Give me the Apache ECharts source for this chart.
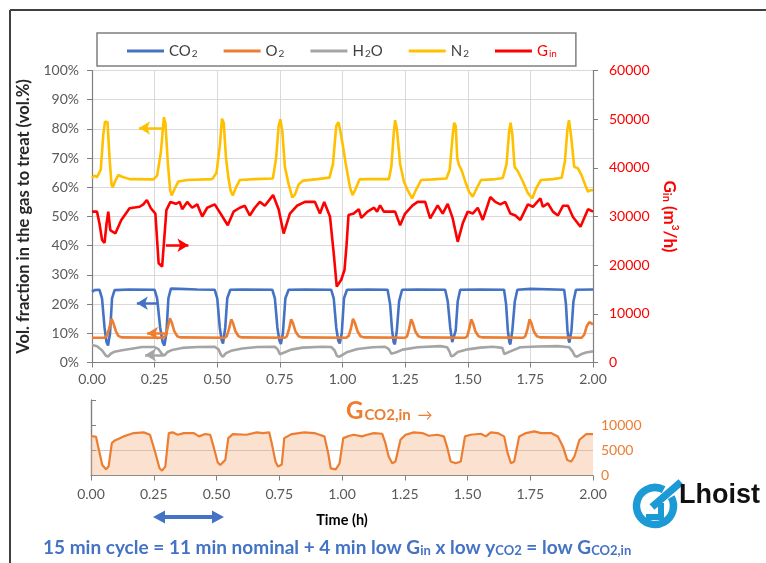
<!DOCTYPE html>
<html>
<head>
<meta charset="utf-8">
<script src="https://cdn.jsdelivr.net/npm/echarts@6/dist/echarts.min.js"></script>
<style>
  html, body { margin: 0; padding: 0; background: #fff; }
  #chart { width: 766px; height: 563px; }
</style>
</head>
<body>
<div id="chart"></div>
<script>
// Time axis ticks (h)
const timeTicks = [0, 0.25, 0.5, 0.75, 1.0, 1.25, 1.5, 1.75, 2.0];

// Gas composition, vol.% vs time (h)
const co2 = [[0,24.2],[0.01,24.8],[0.03,24.9],[0.04,22],[0.05,12],[0.058,7],[0.064,5.8],[0.072,10],[0.08,22],[0.09,24.8],[0.15,25],[0.25,24.9],[0.26,22],[0.272,12],[0.282,7],[0.289,5.8],[0.297,10],[0.305,22],[0.315,25.3],[0.35,25.2],[0.42,25],[0.49,24.9],[0.5,22],[0.51,12],[0.518,7.5],[0.523,6.5],[0.532,12],[0.54,22],[0.552,24.9],[0.6,25],[0.72,24.9],[0.73,22],[0.74,12],[0.748,7.5],[0.754,6.3],[0.762,10],[0.772,22],[0.785,24.9],[0.85,25],[0.955,24.9],[0.965,22],[0.975,12],[0.983,7.5],[0.989,6.5],[0.997,10],[1.006,22],[1.018,24.9],[1.1,25],[1.18,24.9],[1.19,20],[1.198,11],[1.204,7],[1.209,6.2],[1.217,11],[1.226,21],[1.238,24.9],[1.3,25],[1.41,24.9],[1.42,21],[1.43,12],[1.438,7],[1.445,6.4],[1.452,11],[1.46,21],[1.47,24.9],[1.55,25],[1.645,24.9],[1.653,20],[1.66,11],[1.666,7],[1.67,6.2],[1.678,11],[1.688,21],[1.698,24.9],[1.75,25.2],[1.885,24.9],[1.892,20],[1.898,11],[1.903,7.5],[1.906,6.8],[1.914,11],[1.922,21],[1.932,24.9],[2.0,25]];

const o2 = [[0,8.5],[0.05,8.5],[0.06,9.2],[0.068,11.5],[0.078,15],[0.085,13.6],[0.095,10.8],[0.105,9.1],[0.118,8.6],[0.28,8.5],[0.293,9],[0.302,11.8],[0.311,15.1],[0.318,13.8],[0.328,10.8],[0.34,9],[0.352,8.6],[0.53,8.5],[0.538,9],[0.547,11.5],[0.556,14.8],[0.563,13.5],[0.573,10.6],[0.585,9],[0.597,8.6],[0.77,8.5],[0.778,9],[0.787,11.6],[0.795,14.8],[0.802,13.6],[0.812,10.7],[0.825,9],[0.838,8.6],[1.015,8.5],[1.025,9.1],[1.034,11.8],[1.042,15],[1.049,13.7],[1.06,10.7],[1.072,9],[1.085,8.6],[1.25,8.5],[1.258,9],[1.266,11.6],[1.274,14.8],[1.281,13.5],[1.291,10.6],[1.303,9],[1.316,8.6],[1.49,8.5],[1.498,9],[1.506,11.6],[1.514,14.8],[1.521,13.5],[1.531,10.6],[1.543,9],[1.556,8.6],[1.722,8.5],[1.73,9],[1.739,11.6],[1.747,14.8],[1.754,13.5],[1.764,10.6],[1.776,9],[1.789,8.6],[1.955,8.5],[1.965,9.5],[1.975,12.4],[1.985,13.8],[2.0,13.1]];

const h2o = [[0,6.0],[0.02,5.6],[0.04,4.2],[0.055,2.4],[0.064,2.0],[0.075,3.0],[0.09,3.7],[0.12,4.2],[0.17,4.9],[0.2,5.3],[0.25,5.3],[0.265,4.6],[0.28,2.8],[0.289,2.4],[0.3,3.5],[0.32,4.3],[0.36,5.0],[0.42,5.3],[0.49,5.4],[0.505,4.5],[0.515,2.6],[0.523,2.0],[0.535,3.2],[0.555,4.0],[0.6,4.8],[0.66,5.3],[0.73,5.4],[0.742,4.4],[0.75,2.8],[0.756,2.3],[0.77,3.5],[0.795,4.4],[0.84,5.1],[0.92,5.4],[0.955,5.3],[0.968,4.2],[0.978,2.2],[0.988,2.0],[1.0,2.6],[1.02,3.6],[1.06,4.6],[1.12,5.2],[1.17,5.4],[1.185,4.6],[1.195,3.0],[1.201,2.6],[1.215,3.5],[1.24,4.4],[1.3,5.2],[1.39,5.6],[1.418,5.2],[1.427,3.8],[1.434,2.1],[1.442,2.3],[1.46,3.6],[1.5,4.5],[1.55,5.1],[1.6,5.4],[1.638,5.0],[1.646,2.9],[1.652,2.6],[1.67,3.8],[1.71,5.2],[1.78,5.5],[1.86,5.6],[1.905,5.2],[1.918,3.8],[1.928,2.2],[1.936,2.0],[1.952,2.8],[1.972,3.4],[2.0,3.8]];

const n2 = [[0,63.2],[0.01,64],[0.02,63.5],[0.035,66],[0.045,78],[0.052,82.5],[0.062,82.3],[0.07,70],[0.078,61],[0.083,60],[0.092,62],[0.105,64.2],[0.12,63.6],[0.15,62.8],[0.245,62.7],[0.26,64],[0.275,72],[0.287,84],[0.293,82],[0.303,68],[0.312,59],[0.318,57.2],[0.33,59.5],[0.345,62],[0.38,62.5],[0.48,62.8],[0.497,65],[0.51,74],[0.519,83.5],[0.526,82],[0.535,70],[0.545,63],[0.553,59],[0.562,57.2],[0.575,60],[0.59,62.5],[0.65,62.8],[0.722,63],[0.735,70],[0.745,81],[0.752,83.3],[0.76,79],[0.77,67],[0.785,61],[0.8,56.5],[0.81,57.5],[0.825,61],[0.843,62.3],[0.9,62.8],[0.948,63.3],[0.962,68],[0.975,81],[0.984,82.3],[0.992,79],[1.0,75],[1.015,67],[1.03,60],[1.04,57.3],[1.05,59],[1.068,62.7],[1.1,62.8],[1.185,62.8],[1.195,67],[1.205,79],[1.21,83],[1.217,80],[1.23,68],[1.245,62],[1.26,59],[1.278,56.2],[1.29,58.5],[1.314,62.5],[1.36,62.7],[1.415,63],[1.428,66],[1.44,78],[1.446,82.1],[1.452,81],[1.458,70],[1.465,67.6],[1.475,66],[1.49,62],[1.505,58.5],[1.52,56.8],[1.535,59.5],[1.553,62.5],[1.6,62.7],[1.64,63.2],[1.655,68],[1.665,79],[1.671,82.1],[1.678,78],[1.687,67],[1.7,65.5],[1.72,62],[1.74,58],[1.758,56.2],[1.772,59.5],[1.792,62.5],[1.84,62.8],[1.875,63.3],[1.888,69],[1.898,80],[1.904,83],[1.912,78],[1.925,67],[1.94,66.5],[1.955,64],[1.968,61],[1.98,58.5],[1.99,59],[2.0,59]];

// Inlet gas flow G_in, m3/h vs time (h)
const gin = [[0,31000],[0.02,31000],[0.03,28500],[0.04,25200],[0.05,24600],[0.058,28500],[0.065,31000],[0.073,27200],[0.093,26500],[0.117,29300],[0.15,31700],[0.19,32000],[0.205,32500],[0.219,33400],[0.235,31700],[0.253,30600],[0.266,20400],[0.28,19700],[0.297,31300],[0.313,33000],[0.335,32600],[0.35,33000],[0.36,31500],[0.38,33000],[0.4,31800],[0.42,32500],[0.44,30000],[0.46,31800],[0.49,32500],[0.518,30200],[0.542,28200],[0.565,31000],[0.59,31800],[0.61,32200],[0.63,30200],[0.65,31800],[0.67,33000],[0.69,32200],[0.723,34400],[0.745,31500],[0.765,26500],[0.79,30600],[0.818,32200],[0.85,33000],[0.89,33000],[0.91,30600],[0.927,33000],[0.95,30000],[0.965,22400],[0.977,15600],[0.995,17000],[1.008,19000],[1.016,24000],[1.024,30300],[1.045,30600],[1.065,31500],[1.075,29700],[1.1,31000],[1.126,31800],[1.138,31000],[1.15,32300],[1.165,31000],[1.19,31000],[1.21,31000],[1.23,28200],[1.25,30600],[1.28,32300],[1.3,33000],[1.33,33000],[1.35,29600],[1.38,32300],[1.4,30600],[1.42,32600],[1.44,29600],[1.46,24800],[1.48,28600],[1.5,31000],[1.52,30600],[1.54,31800],[1.56,29300],[1.59,34000],[1.61,33000],[1.63,32500],[1.65,33000],[1.67,30600],[1.69,30200],[1.71,29300],[1.74,32500],[1.76,32000],[1.79,33700],[1.8,32000],[1.82,32700],[1.84,31000],[1.86,30200],[1.88,32200],[1.9,32200],[1.92,29900],[1.95,27900],[1.98,31500],[2.0,31000]];

// CO2 inlet flow G_CO2,in, m3/h vs time (h)
const gco2in = [[0,7800],[0.01,7770],[0.02,7700],[0.03,5400],[0.045,2100],[0.06,1230],[0.07,1770],[0.083,6430],[0.095,6970],[0.13,7770],[0.17,8430],[0.21,8570],[0.235,8100],[0.253,5100],[0.273,1430],[0.283,970],[0.296,1770],[0.31,8430],[0.325,8570],[0.345,8100],[0.37,8430],[0.41,8430],[0.43,7770],[0.455,8230],[0.475,8100],[0.49,5430],[0.505,2570],[0.515,2100],[0.535,3100],[0.547,7430],[0.565,8230],[0.62,8100],[0.66,8570],[0.685,8430],[0.71,8570],[0.72,6430],[0.735,2770],[0.745,1770],[0.76,2200],[0.77,7430],[0.8,8230],[0.85,8570],[0.89,8430],[0.91,8100],[0.93,7770],[0.945,4430],[0.955,1430],[0.975,1230],[0.99,2370],[1.005,7430],[1.03,7900],[1.047,8100],[1.08,7770],[1.1,8100],[1.127,8430],[1.16,8300],[1.173,6430],[1.186,3770],[1.2,2430],[1.213,2770],[1.233,7100],[1.253,8100],[1.286,8570],[1.32,8430],[1.346,7900],[1.38,8100],[1.406,7770],[1.42,5430],[1.433,2770],[1.453,2430],[1.473,2770],[1.49,7770],[1.513,8100],[1.553,8300],[1.573,7770],[1.593,8570],[1.62,8430],[1.646,7770],[1.66,4430],[1.673,2430],[1.686,2770],[1.706,7770],[1.733,8430],[1.766,8770],[1.793,8430],[1.833,8430],[1.86,7770],[1.88,5770],[1.897,3100],[1.913,2770],[1.926,3770],[1.946,7100],[1.973,8230],[2.0,8230]];

// Axis-side pointers: [from, to] in (time, value) of the matching axis
const arrowN2 = [[0.283, 80.3], [0.188, 80.3]];
const arrowGin = [[0.295, 24100], [0.385, 24100]];
const arrowCO2 = [[0.26, 20.3], [0.179, 20.3]];
const arrowO2 = [[0.303, 10.0], [0.22, 10.0]];
const arrowH2O = [[0.284, 2.6], [0.212, 2.6]];

const FONT = 'Lato, "Open Sans", sans-serif';
const C = { co2: '#4472C4', o2: '#ED7D31', h2o: '#A5A5A5', n2: '#FFC000', gin: '#FF0000' };
const legendLabels = {
  CO2: '{t|CO}{s|2}', O2: '{t|O}{s|2}', H2O: '{t|H}{s|2}{t|O}', N2: '{t|N}{s|2}', Gin: '{r|G}{rs|in}'
};

function pointer(pair, color) {
  return {
    silent: true,
    symbol: ['none', 'arrow'],
    symbolSize: [10, 11],
    label: { show: false },
    lineStyle: { color: color, width: 2.5, type: 'solid' },
    data: [[{ coord: pair[0] }, { coord: pair[1] }]]
  };
}

function lineSeries(name, data, color, yIdx, arrow) {
  return {
    name: name, type: 'line', data: data,
    xAxisIndex: 0, yAxisIndex: yIdx,
    showSymbol: false, symbol: 'none',
    lineStyle: { color: color, width: 2.6 },
    itemStyle: { color: color },
    markLine: pointer(arrow, color)
  };
}

const axisGray = '#7f7f7f';
const labelGray = '#595959';

const chart = echarts.init(document.getElementById('chart'), null, { renderer: 'canvas' });
chart.setOption({
  animation: false,
  backgroundColor: '#ffffff',
  textStyle: { fontFamily: FONT },
  grid: [
    { left: 92, top: 70.5, width: 501, height: 292 },
    { left: 91, top: 400, width: 502, height: 75.5 }
  ],
  legend: {
    left: 97, top: 33,
    padding: [7, 19, 7, 30],
    itemGap: 26, itemWidth: 37, itemHeight: 3,
    icon: 'rect',
    borderColor: '#7f7f7f', borderWidth: 1.5,
    data: ['CO2', 'O2', 'H2O', 'N2', 'Gin'],
    formatter: function (n) { return legendLabels[n]; },
    textStyle: {
      fontFamily: FONT,
      rich: {
        t: { fontSize: 15, color: '#404040', fontFamily: FONT, lineHeight: 16, verticalAlign: 'bottom' },
        s: { fontSize: 10, color: '#404040', fontFamily: FONT, lineHeight: 10, padding: [9, 0, 0, 1], verticalAlign: 'bottom' },
        r: { fontSize: 15, color: '#FF0000', fontFamily: FONT, lineHeight: 16, verticalAlign: 'bottom' },
        rs: { fontSize: 10, color: '#FF0000', fontFamily: FONT, lineHeight: 10, padding: [9, 0, 0, 1], verticalAlign: 'bottom' }
      }
    }
  },
  xAxis: [
    {
      type: 'value', gridIndex: 0, min: 0, max: 2, interval: 0.25,
      axisLine: { show: true, onZero: false, lineStyle: { color: axisGray, width: 1.2 } },
      axisTick: { show: true, length: 5, lineStyle: { color: axisGray } },
      axisLabel: { color: labelGray, fontSize: 14, fontFamily: FONT, margin: 10,
        formatter: function (v) { return v.toFixed(2); } },
      splitLine: { show: true, lineStyle: { color: '#d9d9d9', width: 1 } }
    },
    {
      type: 'value', gridIndex: 1, min: 0, max: 2, interval: 0.25,
      axisLine: { show: true, onZero: false, lineStyle: { color: axisGray, width: 1.2 } },
      axisTick: { show: true, length: 5, lineStyle: { color: axisGray } },
      axisLabel: { color: labelGray, fontSize: 14, fontFamily: FONT, margin: 12,
        formatter: function (v) { return v.toFixed(2); } },
      splitLine: { show: false },
      name: 'Time (h)', nameLocation: 'middle', nameGap: 37,
      nameTextStyle: { color: '#000', fontSize: 14.5, fontWeight: 'bold', fontFamily: FONT }
    }
  ],
  yAxis: [
    {
      type: 'value', gridIndex: 0, position: 'left', min: 0, max: 100, interval: 10,
      axisLine: { show: true, lineStyle: { color: axisGray, width: 1.2 } },
      axisTick: { show: true, length: 5, lineStyle: { color: axisGray } },
      axisLabel: { color: labelGray, fontSize: 14, fontFamily: FONT, margin: 13, formatter: '{value}%' },
      splitLine: { show: true, lineStyle: { color: '#d9d9d9', width: 1 } },
      name: 'Vol. fraction in the gas to treat (vol.%)', nameLocation: 'middle', nameGap: 56,
      nameTextStyle: { color: '#262626', fontSize: 16.5, fontWeight: 'bold', fontFamily: FONT }
    },
    {
      type: 'value', gridIndex: 0, position: 'right', min: 0, max: 60000, interval: 10000,
      axisLine: { show: true, lineStyle: { color: axisGray, width: 1.2 } },
      axisTick: { show: true, length: 5, lineStyle: { color: axisGray } },
      axisLabel: { color: '#FF0000', fontSize: 14, fontFamily: FONT, margin: 16,
        formatter: function (v) { return String(v); } },
      splitLine: { show: false },
      name: '{g|G}{gs|in}{g| (m}{gp|3}{g|/h)}', nameLocation: 'middle', nameGap: 68, nameRotate: -90,
      nameTextStyle: {
        rich: {
          g: { color: '#FF0000', fontSize: 17, fontWeight: 'bold', fontFamily: FONT, lineHeight: 20, verticalAlign: 'bottom' },
          gs: { color: '#FF0000', fontSize: 11, fontWeight: 'bold', fontFamily: FONT, lineHeight: 11, padding: [10, 0, 0, 0], verticalAlign: 'bottom' },
          gp: { color: '#FF0000', fontSize: 10, fontWeight: 'bold', fontFamily: FONT, lineHeight: 20, padding: [0, 0, 9, 0], verticalAlign: 'bottom' }
        }
      }
    },
    {
      type: 'value', gridIndex: 1, position: 'right', min: 0, max: 15000, interval: 5000,
      axisLine: { show: true, lineStyle: { color: axisGray, width: 1.2 } },
      axisTick: { show: true, length: 5, lineStyle: { color: axisGray } },
      axisLabel: { color: '#ED7D31', fontSize: 14, fontFamily: FONT, margin: 8,
        formatter: function (v) { return v > 10000 ? '' : String(v); } },
      splitLine: { show: true, lineStyle: { color: ['rgba(0,0,0,0)', '#c8c8c8', 'rgba(0,0,0,0)', 'rgba(0,0,0,0)'], width: 1 } }
    },
    {
      type: 'value', gridIndex: 1, position: 'left', min: 0, max: 15000, interval: 5000,
      axisLine: { show: true, lineStyle: { color: axisGray, width: 1.2 } },
      axisTick: { show: false }, axisLabel: { show: false }, splitLine: { show: false }
    }
  ],
  series: [
    lineSeries('CO2', co2, C.co2, 0, arrowCO2),
    lineSeries('O2', o2, C.o2, 0, arrowO2),
    lineSeries('H2O', h2o, C.h2o, 0, arrowH2O),
    lineSeries('N2', n2, C.n2, 0, arrowN2),
    lineSeries('Gin', gin, C.gin, 1, arrowGin),
    {
      name: 'GCO2,in', type: 'line', data: gco2in,
      xAxisIndex: 1, yAxisIndex: 2,
      showSymbol: false, symbol: 'none',
      lineStyle: { color: '#ED7D31', width: 2.2 },
      itemStyle: { color: '#ED7D31' },
      areaStyle: { color: 'rgba(244,177,131,0.55)' }
    }
  ],
  graphic: [
    // frame
    { type: 'line', shape: { x1: 10, y1: 10, x2: 766, y2: 10 }, style: { stroke: '#404040', lineWidth: 2 }, z: 10 },
    { type: 'line', shape: { x1: 10, y1: 10, x2: 10, y2: 563 }, style: { stroke: '#404040', lineWidth: 2 }, z: 10 },
    // G_CO2,in label in the lower panel
    {
      type: 'text', left: 346, top: 397, z: 10,
      style: {
        text: '{g|G}{s|CO2,in}{a| →}',
        rich: {
          g: { fontSize: 24, fontWeight: 'bold', fill: '#ED7D31', fontFamily: FONT, lineHeight: 26, verticalAlign: 'bottom' },
          s: { fontSize: 15, fontWeight: 'bold', fill: '#ED7D31', fontFamily: FONT, lineHeight: 15, padding: [11, 0, 0, 1], verticalAlign: 'bottom' },
          a: { fontSize: 15, fill: '#ED7D31', fontFamily: FONT, lineHeight: 15, padding: [9, 0, 0, 3], verticalAlign: 'bottom' }
        }
      }
    },
    // 15 min cycle span
    {
      type: 'polygon', z: 10,
      shape: { points: [[153,517],[165,510.5],[165,515],[212,515],[212,510.5],[224,517],[212,523.5],[212,519],[165,519],[165,523.5]] },
      style: { fill: '#4472C4' }
    },
    // caption
    {
      type: 'text', left: 43, top: 533, z: 10,
      style: {
        text: '{t|15 min cycle = 11 min nominal + 4 min low G}{s|in}{t| x low y}{s|CO2}{t| = low G}{s|CO2,in}',
        rich: {
          t: { fontSize: 19, fontWeight: 'bold', fill: '#4472C4', fontFamily: FONT, lineHeight: 22, verticalAlign: 'bottom' },
          s: { fontSize: 13, fontWeight: 'bold', fill: '#4472C4', fontFamily: FONT, lineHeight: 13, padding: [11, 0, 0, 0], verticalAlign: 'bottom' }
        }
      }
    },
    // company mark
    {
      type: 'group', z: 10,
      children: [
        { type: 'arc', shape: { cx: 655, cy: 506, r: 18.5, startAngle: -0.5, endAngle: 5.2 }, style: { stroke: '#1B9AD6', lineWidth: 7.5, fill: null } },
        { type: 'line', shape: { x1: 652, y1: 507, x2: 681, y2: 482 }, style: { stroke: '#1B9AD6', lineWidth: 7.5 } },
        { type: 'polyline', shape: { points: [[661, 503], [661, 517], [646, 517]] }, style: { stroke: '#1B9AD6', lineWidth: 6, fill: null } },
        { type: 'text', left: 679, top: 482, style: { text: 'Lhoist', fontSize: 27, fontWeight: 'bold', fill: '#111', fontFamily: '"Liberation Sans", Arial, sans-serif' } }
      ]
    }
  ]
});
</script>
</body>
</html>
